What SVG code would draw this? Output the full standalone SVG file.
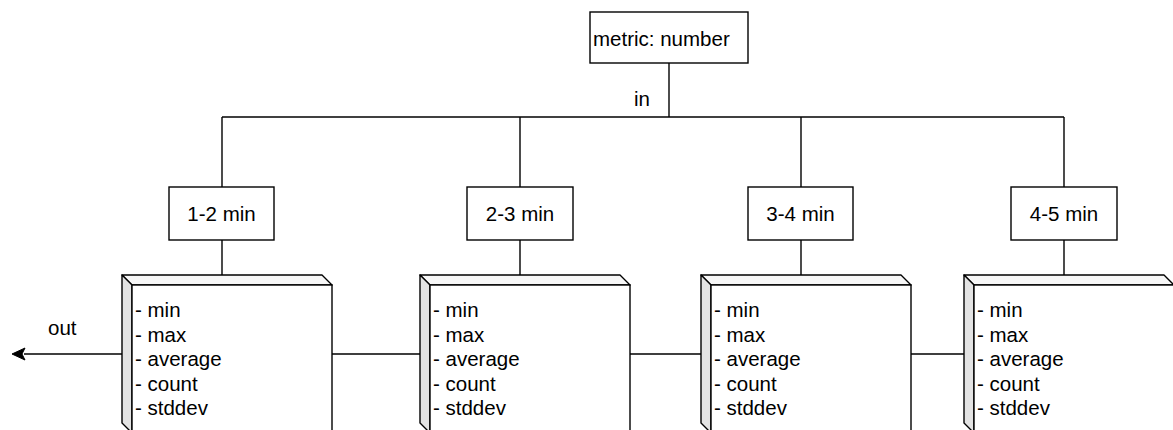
<svg xmlns="http://www.w3.org/2000/svg" width="1173" height="430" viewBox="0 0 1173 430">
<defs>
<style>
text{font-family:"Liberation Sans",Arial,Helvetica,sans-serif;font-size:20.5px;fill:#000}
.box{fill:#fff;stroke:#000;stroke-width:1.4}
.ln{fill:none;stroke:#000;stroke-width:1.4}
.front{fill:#fff;stroke:#000;stroke-width:1.4}
.side{fill:#e3e3e3;stroke:#000;stroke-width:1.4;stroke-linejoin:round}
.top{fill:#f7f7f7;stroke:#000;stroke-width:1.4;stroke-linejoin:round}
.c{text-anchor:middle}
</style>
<marker id="arr" markerWidth="14" markerHeight="12" refX="1" refY="6" orient="auto" markerUnits="userSpaceOnUse">
<path d="M13,6 L0,0 L3.5,6 L0,12 Z" fill="#000" transform="rotate(180 6.5 6)"/>
</marker>
<g id="cube">
<path class="top" d="M0,0 L200,0 L210,10 L10,10 Z"/>
<path class="side" d="M0,0 L10,10 L10,158 L0,148 Z"/>
<rect class="front" x="10" y="10" width="200" height="148"/>
<text x="13" y="42">- min</text>
<text x="13" y="66.5">- max</text>
<text x="13" y="91">- average</text>
<text x="13" y="115.5">- count</text>
<text x="13" y="140">- stddev</text>
</g>
</defs>
<g id="connectors">
<path class="ln" d="M669,63 V117"/>
<path class="ln" d="M222,117 H1064"/>
<path class="ln" d="M222,117 V187 M520,117 V187 M801,117 V187 M1064,117 V187"/>
<path class="ln" d="M222,240 V275 M520,240 V275 M801,240 V275 M1064,240 V275"/>
<path class="ln" d="M332,354 H420 M630,354 H702 M911,354 H964"/>
<path d="M122,354 H24" class="ln"/>
<path d="M12,354 L25,348 L22,354 L25,360 Z" fill="#000" stroke="#000" stroke-width="1"/>
<text x="634" y="106">in</text>
<text x="48" y="335">out</text>
</g>
<g id="metric">
<rect class="box" x="590" y="12" width="158" height="51"/>
<text x="593" y="46">metric: number</text>
</g>
<g id="b12"><rect class="box" x="169" y="187" width="105" height="53"/><text class="c" x="221.5" y="221">1-2 min</text></g>
<g id="b23"><rect class="box" x="467" y="187" width="106" height="53"/><text class="c" x="520" y="221">2-3 min</text></g>
<g id="b34"><rect class="box" x="748" y="187" width="105" height="53"/><text class="c" x="800.5" y="221">3-4 min</text></g>
<g id="b45"><rect class="box" x="1011" y="187" width="106" height="53"/><text class="c" x="1064" y="221">4-5 min</text></g>
<g id="c12"><use href="#cube" x="122" y="275"/></g>
<g id="c23"><use href="#cube" x="420" y="275"/></g>
<g id="c34"><use href="#cube" x="701" y="275"/></g>
<g id="c45"><use href="#cube" x="964" y="275"/></g>
</svg>
